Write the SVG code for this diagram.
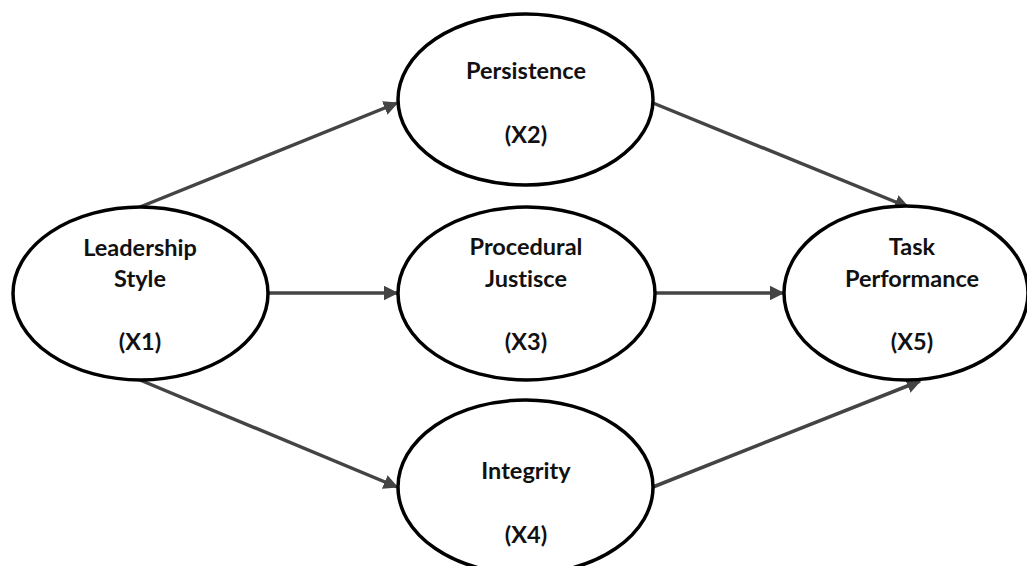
<svg xmlns="http://www.w3.org/2000/svg" width="1027" height="566" viewBox="0 0 1027 566">
<defs>
<style>
.node ellipse{fill:#fff;stroke:#000;stroke-width:3.5}
.node text{font-family:Lato,"Open Sans","Liberation Sans",sans-serif;font-weight:bold;font-size:23.5px;fill:#111;text-anchor:middle;font-variant-ligatures:none;font-feature-settings:"liga" 0}
.conn line{stroke:#444;stroke-width:3.5;marker-end:url(#ah)}
</style>
<marker id="ah" viewBox="0 0 10 10" refX="9" refY="5" markerWidth="4.2" markerHeight="4.2" markerUnits="strokeWidth" orient="auto">
<path d="M0,0 L10,5 L0,10 z" fill="#444"/>
</marker>
</defs>
<rect width="1027" height="566" fill="#fff"/>
<g id="connectors" class="conn">
<line x1="140" y1="207" x2="397" y2="103"/>
<line x1="268" y1="293" x2="397" y2="293"/>
<line x1="140" y1="380" x2="397" y2="487"/>
<line x1="653" y1="103" x2="908" y2="207"/>
<line x1="655" y1="293" x2="783" y2="293"/>
<line x1="653" y1="487" x2="920" y2="381"/>
</g>
<g id="x1" class="node">
<ellipse cx="140.5" cy="293.5" rx="127.5" ry="86.5"/>
<text x="140" y="256">Leadership</text>
<text x="140" y="287">Style</text>
<text x="140" y="350">(X1)</text>
</g>
<g id="x2" class="node">
<ellipse cx="525.5" cy="99.5" rx="127.5" ry="85.5"/>
<text x="526" y="79">Persistence</text>
<text x="526" y="143">(X2)</text>
</g>
<g id="x3" class="node">
<ellipse cx="526.5" cy="293.5" rx="128.5" ry="86.5"/>
<text x="526" y="255">Procedural</text>
<text x="526" y="287">Justisce</text>
<text x="526" y="350">(X3)</text>
</g>
<g id="x4" class="node">
<ellipse cx="525.5" cy="487" rx="127.5" ry="87"/>
<text x="526" y="479">Integrity</text>
<text x="526" y="543">(X4)</text>
</g>
<g id="x5" class="node">
<ellipse cx="906" cy="293" rx="122" ry="87"/>
<text x="912" y="255">Task</text>
<text x="912" y="287">Performance</text>
<text x="912" y="350">(X5)</text>
</g>
</svg>
